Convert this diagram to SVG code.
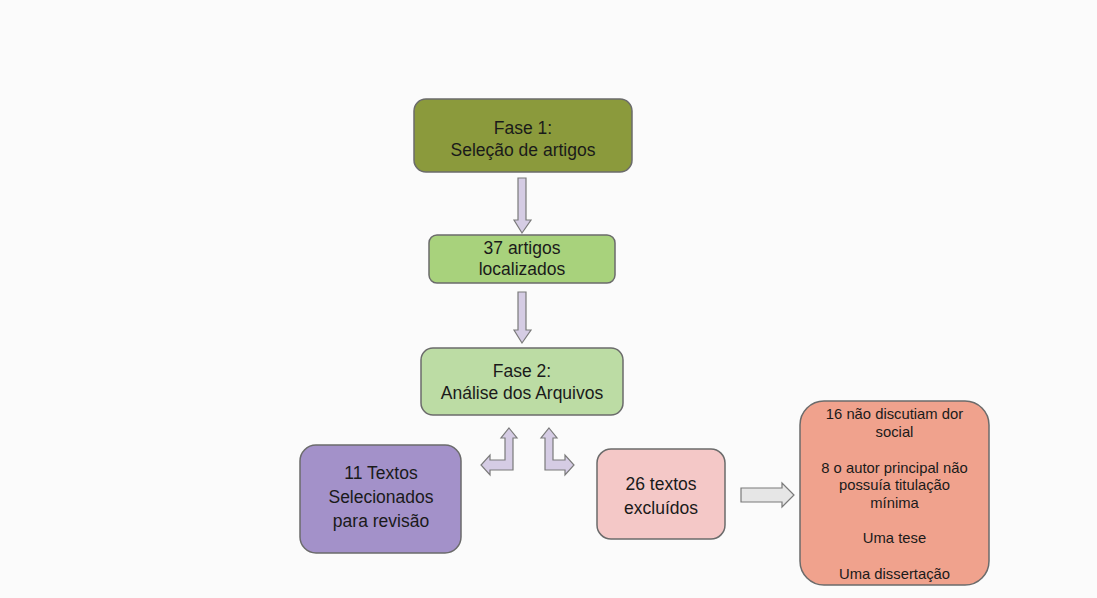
<svg xmlns="http://www.w3.org/2000/svg" width="1097" height="598" viewBox="0 0 1097 598">
<style>
.box{stroke:#6b6b6b;stroke-width:1.5}
.t{font-family:"Liberation Sans",Arial,sans-serif;font-size:17.5px;fill:#1a1a1a;text-anchor:middle}
.s{font-size:14.8px}
.arr{fill:#d5cce4;stroke:#7a7a7a;stroke-width:1.2}
.garr{fill:#e6e6e6;stroke:#7a7a7a;stroke-width:1.2}
</style>
<rect width="1097" height="598" fill="#fbfbfb"/>
<g id="connectors">
<path class="arr" d="M518,178 H526 V220 H531 L522,233 L514,220 H518 Z"/>
<path class="arr" d="M518,292 H526 V330 H531 L522,343 L514,330 H518 Z"/>
<path class="arr" d="M509,428 L517,438 H513 V470 H490 V475 L481,465 L490,455 V460 H505 V438 H501 Z"/>
<path class="arr" d="M549,428 L557,438 H553 V460 H565 V455 L574,465 L565,475 V470 H545 V438 H541 Z"/>
<path class="garr" d="M741,488 H782 V483 L794,495 L782,507 V502 H741 Z"/>
</g>
<g id="fase1">
<rect class="box" x="414" y="99" width="218" height="73" rx="12" fill="#8b9a3c"/>
<text class="t" x="523" y="134">Fase 1:</text>
<text class="t" x="523" y="156">Seleção de artigos</text>
</g>
<g id="artigos">
<rect class="box" x="429" y="235" width="186" height="48" rx="8" fill="#a8d27c"/>
<text class="t" x="522" y="254">37 artigos</text>
<text class="t" x="522" y="275">localizados</text>
</g>
<g id="fase2">
<rect class="box" x="421" y="348" width="202" height="67" rx="12" fill="#bcdca4"/>
<text class="t" x="522" y="377">Fase 2:</text>
<text class="t" x="522" y="399">Análise dos Arquivos</text>
</g>
<g id="selecionados">
<rect class="box" x="300" y="445" width="161" height="108" rx="16" fill="#a391c9"/>
<text class="t" x="381" y="479">11 Textos</text>
<text class="t" x="381" y="503">Selecionados</text>
<text class="t" x="381" y="527">para revisão</text>
</g>
<g id="excluidos">
<rect class="box" x="597" y="449" width="128" height="90" rx="14" fill="#f4c8c7"/>
<text class="t" x="661" y="490">26 textos</text>
<text class="t" x="661" y="514">excluídos</text>
</g>
<g id="motivos">
<rect class="box" x="800" y="401" width="189" height="184" rx="24" fill="#f0a28d"/>
<text class="t s" x="894.5" y="419">16 não discutiam dor</text>
<text class="t s" x="894.5" y="437">social</text>
<text class="t s" x="894.5" y="473">8 o autor principal não</text>
<text class="t s" x="894.5" y="490">possuía titulação</text>
<text class="t s" x="894.5" y="508">mínima</text>
<text class="t s" x="894.5" y="543">Uma tese</text>
<text class="t s" x="894.5" y="579">Uma dissertação</text>
</g>
</svg>
